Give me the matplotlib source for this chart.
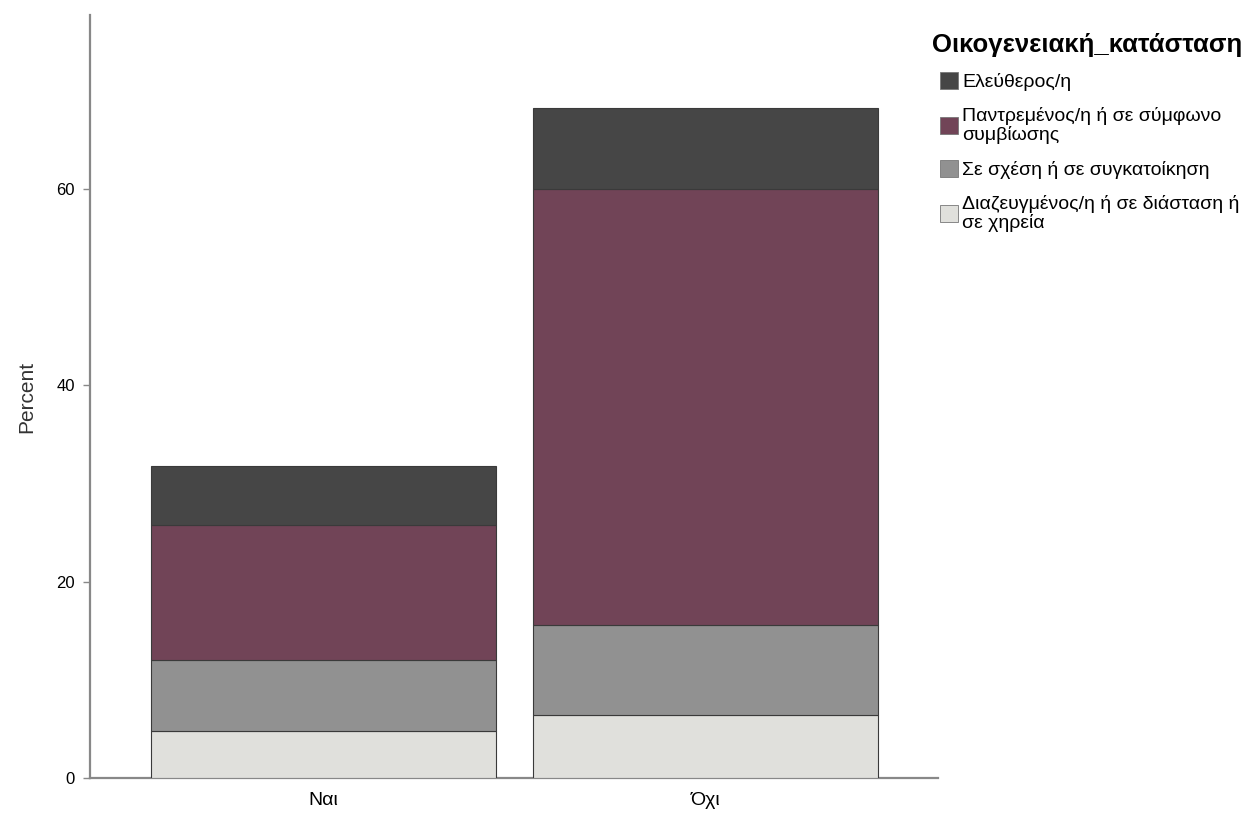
import matplotlib

matplotlib.use("Agg")
import matplotlib.pyplot as plt
from matplotlib.patches import Patch
import numpy as np

plt.rcParams["font.family"] = ["Liberation Sans", "DejaVu Sans"]

categories = ["Ναι", "Όχι"]
groups = [
    "Διαζευγμένος/η ή σε διάσταση ή\nσε χηρεία",
    "Σε σχέση ή σε συγκατοίκηση",
    "Παντρεμένος/η ή σε σύμφωνο\nσυμβίωσης",
    "Ελεύθερος/η",
]
divorced = [4.8, 6.4]
relationship = [7.2, 9.2]
married = [13.8, 44.4]
single = [6.0, 8.2]
yticks = [0, 20, 40, 60]

colors = ["#e0e0dc", "#919191", "#714457", "#464646"]
series = [divorced, relationship, married, single]

fig = plt.figure(figsize=(12.52, 8.18), dpi=100)
ax = fig.add_axes([0.0719, 0.0489, 0.749 - 0.0719, 0.9817 - 0.0489])

x = np.arange(len(categories))
bottom = np.zeros(len(categories))
for vals, color in zip(series, colors):
    ax.bar(x, vals, bottom=bottom, width=0.902, color=color,
           edgecolor="#3a3a3a", linewidth=0.8, zorder=3)
    bottom += np.array(vals)

ax.set_xlim(-0.61, 1.607)
ax.set_ylim(0, 77.7)
ax.set_xticks(x)
ax.set_xticklabels(categories, fontsize=14)
ax.tick_params(axis="x", length=0, pad=10)
ax.set_yticks(yticks)
ax.set_yticklabels([str(v) for v in yticks], fontsize=12)
ax.tick_params(axis="y", length=5, color="#888888", width=1, pad=6)
ax.set_ylabel("Percent", fontsize=15, color="#333333", labelpad=14)

for side in ["top", "right"]:
    ax.spines[side].set_visible(False)
for side in ["left", "bottom"]:
    ax.spines[side].set_color("#888888")
    ax.spines[side].set_linewidth(1.6)

fig.text(932 / 1252, 1 - 45 / 818, "Οικογενειακή_κατάσταση", fontsize=18.5,
         fontweight="bold", va="center", ha="left")

handles = [Patch(facecolor=c, edgecolor="#777777", linewidth=0.6) for c in colors[::-1]]
leg = fig.legend(
    handles,
    groups[::-1],
    loc="upper left",
    bbox_to_anchor=(940 / 1252, 1 - 72 / 818),
    frameon=False,
    fontsize=14,
    handlelength=0.95,
    handleheight=1.0,
    handletextpad=0.2,
    labelspacing=0.8,
    borderaxespad=0,
    borderpad=0,
)
for t in leg.get_texts():
    t.set_linespacing(1.1)

fig.savefig("out.png", dpi=100)
